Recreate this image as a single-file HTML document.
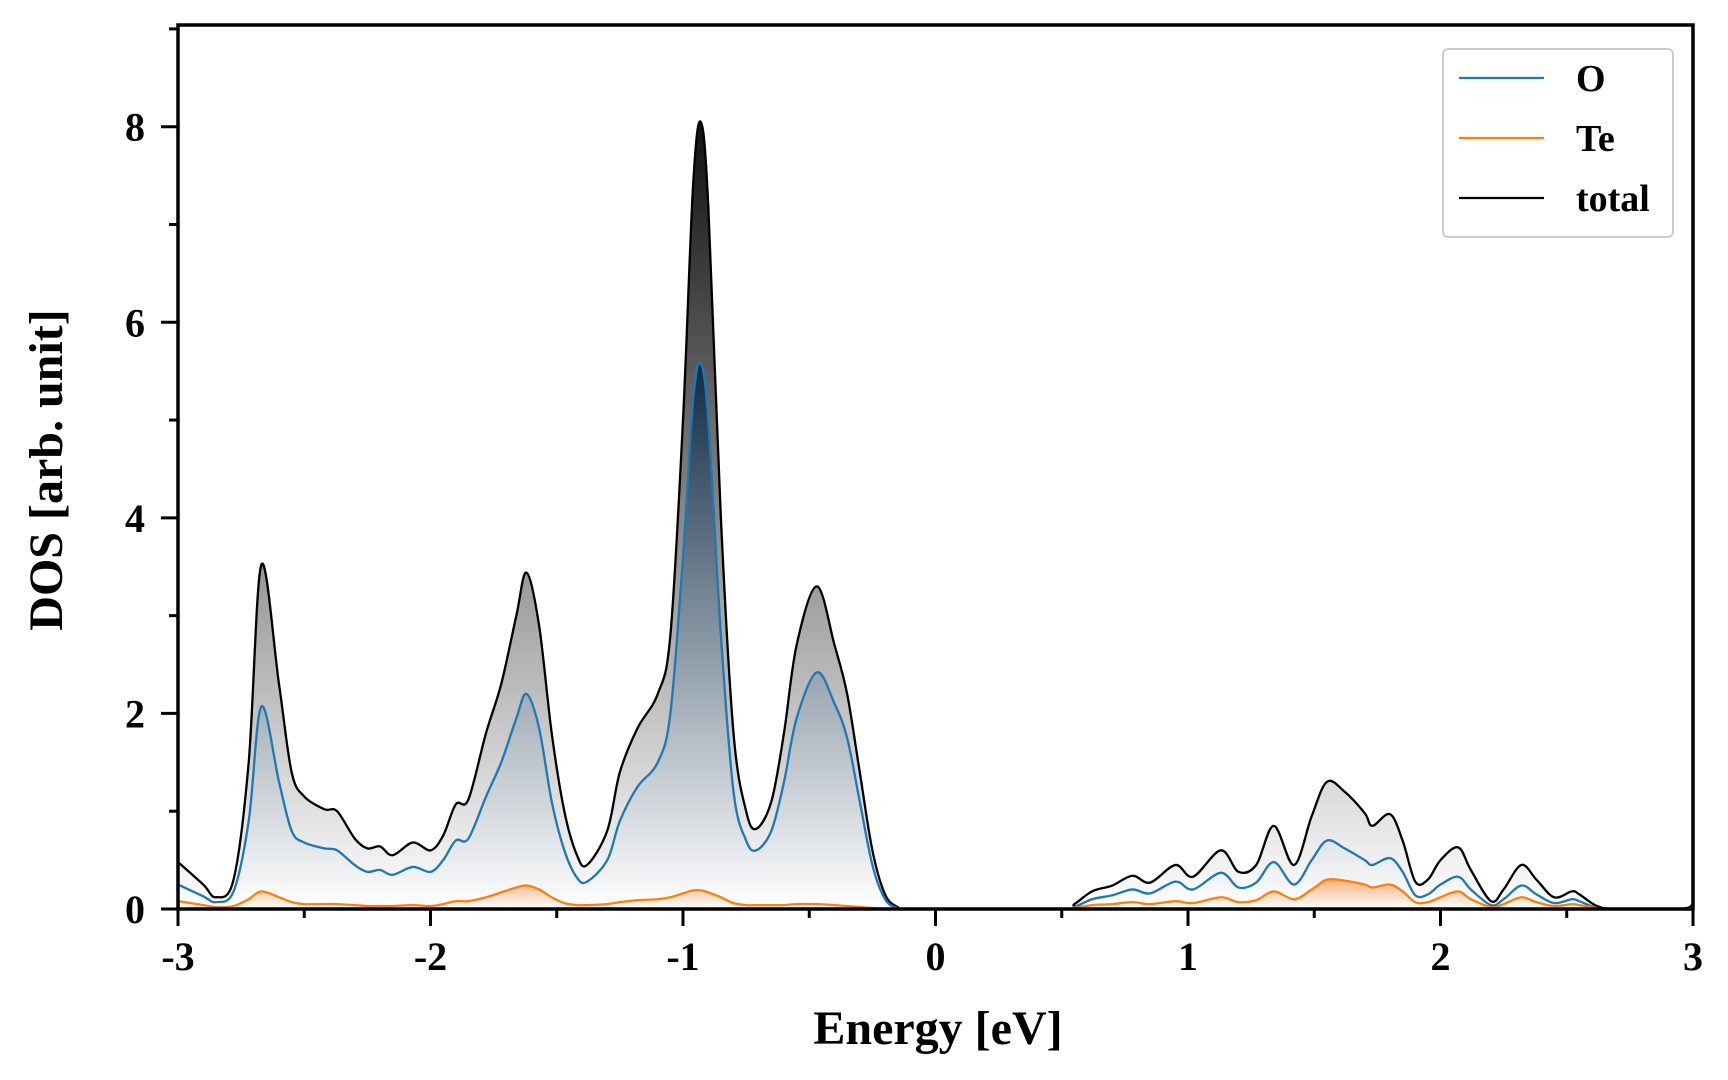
<!DOCTYPE html>
<html><head><meta charset="utf-8"><style>
html,body{margin:0;padding:0;background:#fff;}
svg{display:block;font-family:"Liberation Serif",serif;font-weight:bold;}
</style></head><body>
<svg id="chart" width="1728" height="1080" viewBox="0 0 1728 1080">
<defs>
<linearGradient id="gTot" gradientUnits="userSpaceOnUse" x1="0" y1="127" x2="0" y2="909"><stop offset="0" stop-color="#111"/><stop offset="1" stop-color="#fff"/></linearGradient>
<linearGradient id="gO" gradientUnits="userSpaceOnUse" x1="0" y1="360" x2="0" y2="909"><stop offset="0" stop-color="#0d2a44"/><stop offset="1" stop-color="#fff"/></linearGradient>
<linearGradient id="gTe" gradientUnits="userSpaceOnUse" x1="0" y1="875" x2="0" y2="909"><stop offset="0" stop-color="#f4a66a"/><stop offset="1" stop-color="#fff"/></linearGradient>
</defs>
<g id="plot"></g>
<rect x="178" y="25" width="1515" height="884" fill="none" stroke="#000" stroke-width="3.5"/>
<g id="ticks"></g>
<text x="938" y="1044" font-size="48" text-anchor="middle">Energy [eV]</text>
<text transform="translate(62,470) rotate(-90)" font-size="48" text-anchor="middle">DOS [arb. unit]</text>
<g>
<rect x="1443" y="49" width="230" height="188" rx="5" fill="#fff" stroke="#ccc" stroke-width="2"/>
<line x1="1459" y1="78" x2="1544" y2="78" stroke="#1f77b4" stroke-width="2.2"/>
<text x="1576" y="91" font-size="38">O</text>
<line x1="1459" y1="138" x2="1544" y2="138" stroke="#ff7f0e" stroke-width="2.2"/>
<text x="1576" y="151" font-size="38">Te</text>
<line x1="1459" y1="198" x2="1544" y2="198" stroke="#000" stroke-width="2.2"/>
<text x="1576" y="211" font-size="38">total</text>
</g>
</svg>
<script>
const energy=[-3.0,-2.9,-2.85,-2.78,-2.72,-2.67,-2.6,-2.55,-2.5,-2.42,-2.37,-2.3,-2.25,-2.2,-2.15,-2.07,-2.0,-1.95,-1.9,-1.85,-1.78,-1.72,-1.66,-1.62,-1.57,-1.52,-1.47,-1.42,-1.38,-1.3,-1.25,-1.18,-1.1,-1.05,-1.0,-0.96,-0.93,-0.9,-0.85,-0.8,-0.75,-0.71,-0.65,-0.6,-0.55,-0.47,-0.4,-0.35,-0.3,-0.25,-0.2,-0.15,-0.1,0.5,0.55,0.62,0.7,0.78,0.85,0.95,1.02,1.13,1.2,1.27,1.34,1.42,1.49,1.55,1.62,1.7,1.73,1.8,1.85,1.9,1.95,2.0,2.07,2.12,2.2,2.25,2.32,2.38,2.45,2.52,2.55,2.62,2.7,2.95,3.0];
const totalDos=[0.48,0.25,0.12,0.3,1.5,3.52,2.3,1.4,1.15,1.02,1.0,0.72,0.62,0.64,0.55,0.68,0.6,0.75,1.07,1.12,1.8,2.3,3.0,3.44,2.9,1.8,1.0,0.55,0.45,0.8,1.4,1.85,2.2,2.8,5.0,7.4,8.05,7.2,4.0,1.8,1.0,0.82,1.1,1.8,2.7,3.3,2.7,2.2,1.4,0.6,0.15,0.02,0,0,0.05,0.18,0.24,0.34,0.27,0.45,0.33,0.6,0.38,0.45,0.85,0.45,0.95,1.3,1.2,0.98,0.85,0.97,0.7,0.28,0.3,0.5,0.63,0.4,0.08,0.2,0.45,0.3,0.12,0.18,0.15,0.03,0,0,0.05];
const oDos=[0.25,0.13,0.07,0.18,0.9,2.07,1.3,0.8,0.68,0.62,0.6,0.45,0.38,0.4,0.35,0.43,0.38,0.5,0.7,0.72,1.15,1.5,1.95,2.2,1.85,1.1,0.6,0.32,0.28,0.5,0.9,1.25,1.5,2.0,3.6,5.2,5.58,5.0,2.8,1.2,0.7,0.6,0.8,1.3,1.95,2.42,2.1,1.75,1.1,0.45,0.1,0.01,0,0,0.02,0.1,0.14,0.2,0.16,0.28,0.2,0.37,0.22,0.27,0.48,0.25,0.5,0.7,0.62,0.5,0.45,0.52,0.38,0.14,0.15,0.25,0.33,0.2,0.04,0.1,0.24,0.15,0.06,0.1,0.08,0.01,0,0,0.02];
const teDos=[0.08,0.04,0.02,0.03,0.1,0.18,0.12,0.07,0.05,0.05,0.05,0.04,0.03,0.03,0.03,0.04,0.03,0.05,0.08,0.08,0.12,0.17,0.22,0.24,0.2,0.12,0.06,0.04,0.04,0.05,0.07,0.09,0.1,0.12,0.16,0.19,0.19,0.17,0.12,0.06,0.04,0.04,0.04,0.04,0.05,0.05,0.04,0.03,0.02,0.01,0.0,0,0,0,0.01,0.04,0.05,0.07,0.05,0.08,0.06,0.12,0.07,0.09,0.18,0.1,0.2,0.3,0.29,0.25,0.22,0.25,0.18,0.07,0.07,0.12,0.18,0.1,0.02,0.05,0.12,0.07,0.03,0.05,0.04,0.01,0,0,0.01];
const xTicks=[-3,-2,-1,0,1,2,3];
const yTicks=[0,2,4,6,8];
const xMin=-3,xMax=3,yMin=0,yMax=9.04;
const L=178,R=1693,T=25,B=909;
function sx(v){return L+(v-xMin)/(xMax-xMin)*(R-L);}
function sy(v){return B-(v-yMin)/(yMax-yMin)*(B-T);}
function path(vals){
  const p=energy.map((e,i)=>[sx(e),sy(vals[i])]);
  let d='M'+p[0][0]+','+p[0][1];
  for(let i=0;i<p.length-1;i++){
    const p0=p[Math.max(0,i-1)],p1=p[i],p2=p[i+1],p3=p[Math.min(p.length-1,i+2)];
    let c1y=p1[1]+(p2[1]-p0[1])/6,c2y=p2[1]-(p3[1]-p1[1])/6;
    c1y=Math.min(c1y,B);c2y=Math.min(c2y,B);
    d+=' C'+(p1[0]+(p2[0]-p0[0])/6)+','+c1y+' '+(p2[0]-(p3[0]-p1[0])/6)+','+c2y+' '+p2[0]+','+p2[1];
  }
  return d;
}
const NS='http://www.w3.org/2000/svg';
const plot=document.getElementById('plot');
function add(parent,tag,attrs){const el=document.createElementNS(NS,tag);for(const k in attrs)el.setAttribute(k,attrs[k]);parent.appendChild(el);return el;}
const series=[[totalDos,'url(#gTot)','#000','total'],[oDos,'url(#gO)','#1f77b4','o'],[teDos,'url(#gTe)','#ff7f0e','te']];
series.forEach(s=>{
  const d=path(s[0]);
  const f=add(plot,'path',{d:d+' L'+sx(xMax)+','+B+' L'+sx(xMin)+','+B+' Z',fill:s[1],stroke:'none'});
  
  
});
series.forEach(s=>{
  const l=add(plot,'path',{d:path(s[0]),fill:'none',stroke:s[2],'stroke-width':2.3});
  
  
});
const tk=document.getElementById('ticks');
for(let v=-3;v<=3.001;v+=0.5){
  const major=Math.abs(v-Math.round(v))<1e-6;
  const t=add(tk,'line',{x1:sx(v),x2:sx(v),y1:B,y2:B+(major?17:9),stroke:'#000','stroke-width':3});
  
  
}
xTicks.forEach(v=>{
  const t=add(tk,'text',{x:sx(v),y:970,'font-size':40,'text-anchor':'middle'});
  t.textContent=String(v);
  
  
});
for(let v=0;v<=9;v++){
  const major=v%2===0;
  const t=add(tk,'line',{x1:L,x2:L-(major?17:9),y1:sy(v),y2:sy(v),stroke:'#000','stroke-width':3});
  
  
}
yTicks.forEach(v=>{
  const t=add(tk,'text',{x:145,y:sy(v)+14,'font-size':40,'text-anchor':'end'});
  t.textContent=String(v);
  
  
});
</script>
</body></html>
